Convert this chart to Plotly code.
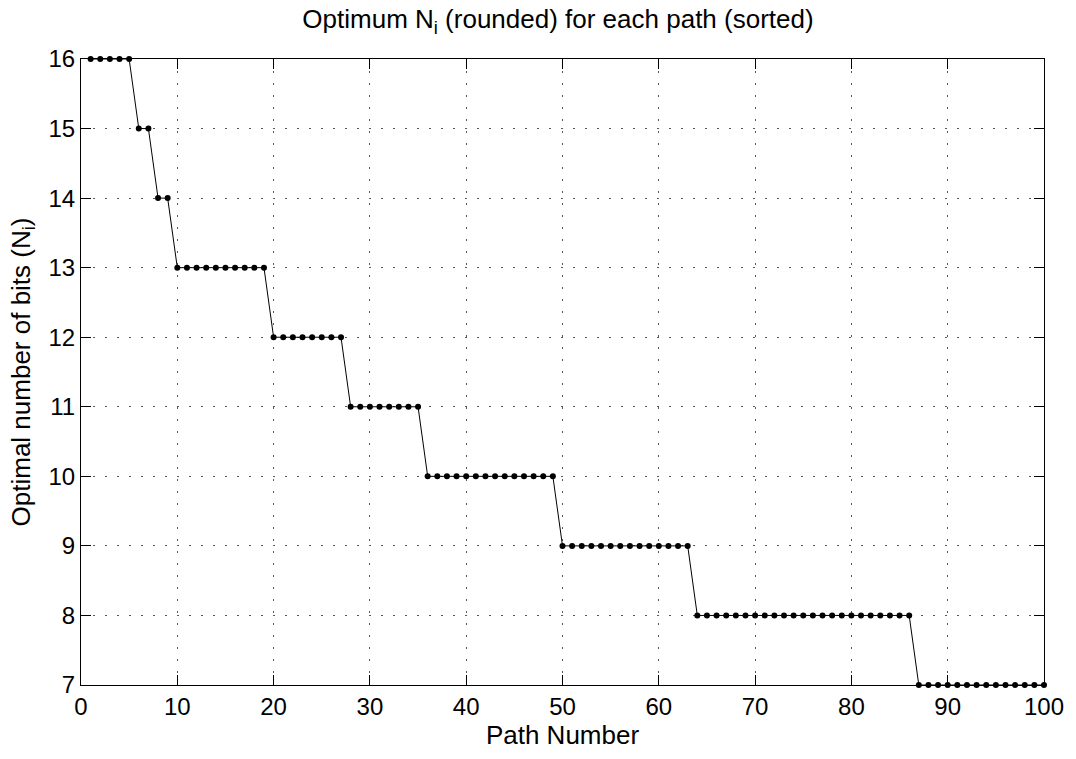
import plotly.graph_objects as go

levels = [16, 15, 14, 13, 12, 11, 10, 9, 8, 7]
counts = [5, 2, 2, 10, 8, 8, 14, 14, 23, 14]

values = []
for lv, c in zip(levels, counts):
    values += [lv] * c
paths = list(range(1, len(values) + 1))

x_ticks = [0, 10, 20, 30, 40, 50, 60, 70, 80, 90, 100]
y_ticks = [7, 8, 9, 10, 11, 12, 13, 14, 15, 16]

FONT = "Liberation Sans, Arial, Helvetica, sans-serif"

fig = go.Figure()
fig.add_trace(go.Scatter(
    x=paths, y=values, mode="lines+markers",
    line=dict(color="black", width=1),
    marker=dict(color="black", size=6),
    showlegend=False, cliponaxis=False,
))

axis_common = dict(
    showline=True, linecolor="black", linewidth=1, mirror="ticks",
    ticks="inside", ticklen=10, tickcolor="black", tickwidth=1,
    showgrid=True, gridcolor="rgba(0,0,0,0.65)", griddash="2px,10px", gridwidth=1,
    zeroline=False,
    tickfont=dict(family=FONT, size=24, color="black"),
    title_font=dict(family=FONT, size=26, color="black"),
)

fig.update_layout(
    width=1076, height=759,
    margin=dict(l=81, r=29, t=59, b=74),
    plot_bgcolor="white", paper_bgcolor="white",
    title=dict(text="Optimum N<sub>i</sub> (rounded) for each path (sorted)",
               xref="container", x=0.5186, xanchor="center",
               yref="container", y=0.975, yanchor="middle",
               font=dict(family=FONT, size=26, color="black")),
    xaxis=dict(range=[0, 100], tickvals=x_ticks, title=dict(text="Path Number", standoff=6), **axis_common),
    yaxis=dict(range=[7, 16], tickvals=y_ticks, title=dict(text="Optimal number of bits (N<sub>i</sub>)", standoff=10), **axis_common),
)

fig.write_html("out.html", config={"displayModeBar": False},
               post_script="document.body.style.margin='0px';")
